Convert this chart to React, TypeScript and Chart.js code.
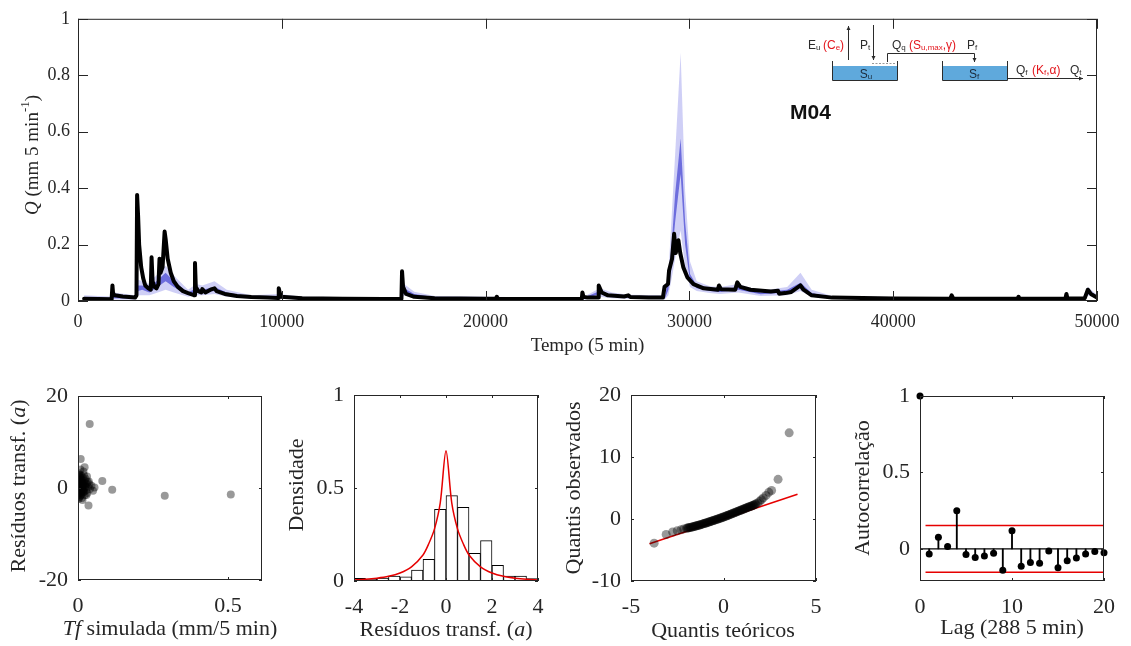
import React, { useEffect, useRef } from 'react';
import { Chart, registerables } from 'chart.js';
Chart.register(...registerables);

const W = 1131;
const H = 646;
const SERIF = "'Liberation Serif', 'Times New Roman', serif";
const SANS = "'Liberation Sans', Arial, Helvetica, sans-serif";
const INK = '#262626';
const AXIS = 40;

// ---------------- top panel data ----------------
const topXTicks = [0, 10000, 20000, 30000, 40000, 50000];
const topYTicks = [0, 0.2, 0.4, 0.6, 0.8, 1];

// observed discharge [time step, Q]
const obsPoints: number[][] = [
  [300, 0.008], [1000, 0.007], [1650, 0.006], [1690, 0.055], [1720, 0.028], [1800, 0.02], [2200, 0.016],
  [2800, 0.012], [2870, 0.02], [2900, 0.376], [2950, 0.3], [3000, 0.2], [3100, 0.12], [3200, 0.08],
  [3300, 0.055], [3450, 0.045], [3570, 0.04], [3610, 0.155], [3660, 0.07], [3750, 0.05], [3850, 0.045],
  [3950, 0.06], [4000, 0.15], [4050, 0.1], [4150, 0.12], [4250, 0.246], [4300, 0.22], [4400, 0.15],
  [4550, 0.1], [4700, 0.07], [4900, 0.05], [5150, 0.035], [5400, 0.028], [5650, 0.022], [5710, 0.02],
  [5740, 0.135], [5780, 0.05], [5900, 0.035], [6050, 0.03], [6100, 0.042], [6250, 0.03], [6500, 0.04],
  [6700, 0.045], [6800, 0.035], [7200, 0.025], [7800, 0.018], [8500, 0.014], [9300, 0.012], [9820, 0.011],
  [9850, 0.045], [9950, 0.015], [11000, 0.01], [13000, 0.008], [15000, 0.007], [15870, 0.007], [15900, 0.105],
  [15950, 0.05], [16100, 0.025], [16500, 0.015], [17500, 0.01], [20000, 0.008], [20500, 0.008], [20550, 0.015],
  [20600, 0.008], [24000, 0.007], [24720, 0.007], [24750, 0.03], [24800, 0.015], [25000, 0.012], [25520, 0.012],
  [25550, 0.055], [25700, 0.03], [26000, 0.02], [26800, 0.016], [27000, 0.02], [27100, 0.014], [28000, 0.012],
  [28700, 0.012], [28780, 0.05], [28950, 0.06], [29000, 0.107], [29150, 0.15], [29250, 0.238], [29330, 0.17],
  [29460, 0.215], [29550, 0.17], [29700, 0.12], [29900, 0.084], [30200, 0.06], [30700, 0.045], [31400, 0.04],
  [31450, 0.055], [31550, 0.042], [32250, 0.04], [32350, 0.066], [32500, 0.05], [33000, 0.04], [34000, 0.034],
  [34350, 0.036], [34400, 0.026], [34700, 0.028], [35000, 0.032], [35450, 0.055], [35600, 0.04], [36000, 0.02],
  [37000, 0.012], [40000, 0.009], [42800, 0.008], [42870, 0.02], [42950, 0.008], [46100, 0.008], [46150, 0.015],
  [46200, 0.008], [48450, 0.008], [48500, 0.025], [48550, 0.009], [49400, 0.01], [49550, 0.04], [49700, 0.025],
  [50000, 0.012],
];

// simulated uncertainty bands [time step, outerLo, innerLo, innerHi, outerHi]
const simRows: number[][] = [
  [300, 0.002, 0.005, 0.01, 0.02], [1000, 0.002, 0.005, 0.009, 0.018], [1650, 0.002, 0.004, 0.008, 0.016],
  [1750, 0.005, 0.01, 0.02, 0.03], [2800, 0.004, 0.008, 0.013, 0.02], [2950, 0.02, 0.035, 0.055, 0.075],
  [3150, 0.02, 0.04, 0.055, 0.07], [3500, 0.02, 0.03, 0.045, 0.06], [3700, 0.025, 0.04, 0.06, 0.08],
  [4300, 0.04, 0.07, 0.1, 0.125], [4700, 0.03, 0.05, 0.07, 0.09], [5400, 0.015, 0.022, 0.03, 0.04],
  [5800, 0.02, 0.03, 0.045, 0.06], [6100, 0.02, 0.03, 0.04, 0.055], [6700, 0.025, 0.035, 0.05, 0.07],
  [7300, 0.015, 0.02, 0.03, 0.04], [8500, 0.008, 0.011, 0.015, 0.02], [9900, 0.008, 0.012, 0.018, 0.025],
  [11000, 0.005, 0.008, 0.011, 0.015], [15850, 0.003, 0.005, 0.008, 0.012], [16000, 0.02, 0.03, 0.045, 0.06],
  [16500, 0.012, 0.018, 0.025, 0.033], [17500, 0.006, 0.009, 0.013, 0.018], [24700, 0.003, 0.005, 0.008, 0.011],
  [25600, 0.015, 0.025, 0.035, 0.045], [26200, 0.01, 0.015, 0.022, 0.03], [27000, 0.008, 0.012, 0.017, 0.022],
  [28800, 0.006, 0.01, 0.014, 0.02], [28970, 0.02, 0.04, 0.08, 0.1], [29130, 0.08, 0.15, 0.2, 0.3],
  [29300, 0.15, 0.28, 0.38, 0.52], [29570, 0.25, 0.45, 0.576, 0.88], [29790, 0.12, 0.2, 0.28, 0.39],
  [30030, 0.05, 0.07, 0.096, 0.14], [30360, 0.035, 0.045, 0.055, 0.07], [31000, 0.028, 0.035, 0.042, 0.052],
  [31500, 0.025, 0.032, 0.04, 0.05], [32400, 0.03, 0.04, 0.05, 0.06], [33500, 0.018, 0.024, 0.03, 0.036],
  [34800, 0.02, 0.03, 0.04, 0.05], [35450, 0.035, 0.05, 0.065, 0.1], [36000, 0.015, 0.02, 0.028, 0.04],
  [37000, 0.008, 0.01, 0.013, 0.018], [42800, 0.003, 0.005, 0.008, 0.011], [49300, 0.004, 0.006, 0.009, 0.013],
  [49550, 0.02, 0.03, 0.04, 0.05], [50000, 0.008, 0.012, 0.016, 0.022],
];

// ---------------- panel 1: residuals vs simulated ----------------
const resXTicks = [0, 0.5];
const resYTicks = [-20, 0, 20];
const resPoints: number[][] = [
  [0.039, 13.9], [0.009, 6.3], [0.022, 4.5], [0.081, 1.5], [0.114, -0.4], [0.289, -1.7], [0.509, -1.4], [0.035, -3.8],
  [0.002, -1.5], [0.002, 0.5], [0.002, 2.5], [0.003, -0.8], [0.003, 1.2], [0.003, 3.2], [0.004, -2.0], [0.004, 0.0],
  [0.004, 1.8], [0.005, -1.2], [0.005, 0.8], [0.005, 2.8], [0.006, -0.4], [0.006, 1.5], [0.007, -1.8], [0.007, 0.3],
  [0.007, 2.2], [0.008, -1.0], [0.008, 1.0], [0.009, -0.2], [0.009, 1.9], [0.01, -1.4], [0.01, 0.6], [0.011, 2.6],
  [0.012, -0.6], [0.012, 1.3], [0.013, -2.2], [0.014, 0.1], [0.015, 1.7], [0.016, -1.0], [0.017, 0.7], [0.018, 3.6],
  [0.019, -0.3], [0.02, 1.1], [0.022, -1.6], [0.023, 0.4], [0.025, 2.0], [0.027, -0.5], [0.029, 0.9], [0.031, -1.1],
  [0.033, 0.2], [0.036, 1.4], [0.04, -0.2], [0.045, 0.5], [0.05, -0.6], [0.055, 0.1], [0.015, -2.6], [0.02, 2.8],
  [0.008, 4.0], [0.03, 2.5], [0.004, 0.9], [0.006, -1.1], [0.011, 0.2], [0.013, 0.9], [0.018, -0.8], [0.024, 1.0],
  [0.001, -0.5], [0.001, 1.5], [0.002, -2.4], [0.003, 0.2], [0.003, 2.0], [0.004, -1.2], [0.005, 0.3], [0.005, 1.4],
  [0.006, 0.6], [0.006, 2.4], [0.007, -0.6], [0.007, 1.2], [0.008, 0.2], [0.008, 2.9], [0.009, -1.6], [0.009, 0.9],
  [0.01, -0.4], [0.01, 1.6], [0.011, -1.0], [0.012, 0.4], [0.013, -0.2], [0.014, 1.2], [0.015, 0.4], [0.016, 2.2],
  [0.017, -0.4], [0.019, 0.6], [0.021, -0.8], [0.022, 1.7], [0.026, 0.2], [0.028, -1.5], [0.032, 1.3], [0.038, 0.8],
];

// ---------------- panel 2: histogram ----------------
const histXTicks = [-4, -2, 0, 2, 4];
const histYTicks = [0, 0.5, 1];
const binCenters = [-3.75, -3.25, -2.75, -2.25, -1.75, -1.25, -0.75, -0.25, 0.25, 0.75, 1.25, 1.75, 2.25, 2.75, 3.25, 3.75];
const binDensity = [0.014, 0.009, 0.016, 0.027, 0.023, 0.059, 0.116, 0.385, 0.459, 0.396, 0.149, 0.217, 0.084, 0.027, 0.027, 0.013];
const pdfX = [-4, -3.5, -3, -2.5, -2, -1.5, -1, -0.75, -0.5, -0.25, 0, 0.25, 0.5, 0.75, 1, 1.5, 2, 2.5, 3, 3.5, 4];
const pdfY = [0.006, 0.009, 0.015, 0.025, 0.043, 0.076, 0.14, 0.2, 0.28, 0.42, 0.7, 0.42, 0.28, 0.2, 0.14, 0.076, 0.043, 0.025, 0.015, 0.009, 0.006];

// ---------------- panel 3: QQ plot ----------------
const qqXTicks = [-5, 0, 5];
const qqYTicks = [-10, 0, 10, 20];
const qqPoints: number[][] = [
  [-3.75, -3.9], [-3.1, -2.5], [-2.75, -2.1], [-2.5, -1.9], [-2.3, -1.75], [-2.15, -1.6],
  [-2.0, -1.5], [-1.95, -1.47], [-1.9, -1.43], [-1.85, -1.4], [-1.8, -1.36], [-1.75, -1.33], [-1.7, -1.3],
  [-1.65, -1.26], [-1.6, -1.22], [-1.55, -1.18], [-1.5, -1.13], [-1.45, -1.09], [-1.4, -1.04], [-1.35, -1.0],
  [-1.3, -0.96], [-1.25, -0.92], [-1.2, -0.87], [-1.15, -0.83], [-1.1, -0.78], [-1.05, -0.74], [-1.0, -0.69],
  [-0.95, -0.64], [-0.9, -0.6], [-0.85, -0.55], [-0.8, -0.5], [-0.75, -0.45], [-0.7, -0.4], [-0.65, -0.35],
  [-0.6, -0.3], [-0.55, -0.25], [-0.5, -0.2], [-0.45, -0.15], [-0.4, -0.1], [-0.35, -0.05], [-0.3, 0.0],
  [-0.25, 0.06], [-0.2, 0.11], [-0.15, 0.16], [-0.1, 0.21], [-0.05, 0.27], [0, 0.32], [0.05, 0.38], [0.1, 0.43],
  [0.15, 0.49], [0.2, 0.55], [0.25, 0.6], [0.3, 0.66], [0.35, 0.72], [0.4, 0.78], [0.45, 0.84], [0.5, 0.9],
  [0.55, 0.96], [0.6, 1.02], [0.65, 1.08], [0.7, 1.14], [0.75, 1.2], [0.8, 1.26], [0.85, 1.32], [0.9, 1.38],
  [0.95, 1.44], [1.0, 1.5], [1.05, 1.56], [1.1, 1.62], [1.15, 1.68], [1.2, 1.74], [1.25, 1.8], [1.3, 1.86],
  [1.35, 1.92], [1.4, 1.97], [1.45, 2.02], [1.5, 2.08], [1.55, 2.14], [1.6, 2.2], [1.65, 2.27], [1.7, 2.35],
  [1.75, 2.45], [1.85, 2.6], [1.95, 2.85], [2.05, 3.1], [2.15, 3.4], [2.3, 3.8], [2.45, 4.3], [2.6, 4.6],
  [2.95, 6.4], [3.55, 13.9],
];
const qqLineX = [-4, 4];
const qqLineY = [-4, 4];

// ---------------- panel 4: autocorrelation ----------------
const acfXTicks = [0, 10, 20];
const acfYTicks = [0, 0.5, 1];
const acfLags = [0, 1, 2, 3, 4, 5, 6, 7, 8, 9, 10, 11, 12, 13, 14, 15, 16, 17, 18, 19, 20];
const acfValues = [1, -0.033, 0.076, 0.015, 0.25, -0.037, -0.057, -0.046, -0.028, -0.14, 0.118, -0.113, -0.089, -0.094, -0.013, -0.124, -0.078, -0.059, -0.033, -0.017, -0.026];
const acfBound = 0.153;
const acfBoundX = [0.6, 20];

// ---------------- helpers ----------------
type Seg = { t: string; i?: boolean; b?: boolean; sub?: boolean; sup?: boolean; c?: string };
type Area = { L: number; T: number; R: number; B: number };

function fontOf(s: Seg, size: number, fam: string) {
  const sz = s.sub || s.sup ? Math.round(size * 0.68) : size;
  return `${s.i ? 'italic ' : ''}${s.b ? 'bold ' : ''}${sz}px ${fam}`;
}
function richWidth(ctx: CanvasRenderingContext2D, segs: Seg[], size: number, fam: string) {
  let w = 0;
  segs.forEach((s) => {
    ctx.font = fontOf(s, size, fam);
    w += ctx.measureText(s.t).width;
  });
  return w;
}
function drawRich(
  ctx: CanvasRenderingContext2D, segs: Seg[], x: number, y: number, size: number, fam: string,
  align: 'left' | 'center', color: string, baseline: CanvasTextBaseline = 'middle', subK = 0.25
) {
  ctx.save();
  ctx.textBaseline = baseline;
  ctx.textAlign = 'left';
  let cx = align === 'center' ? x - richWidth(ctx, segs, size, fam) / 2 : x;
  segs.forEach((s) => {
    ctx.font = fontOf(s, size, fam);
    ctx.fillStyle = s.c || color;
    const dy = s.sub ? size * subK : s.sup ? -size * 0.38 : 0;
    ctx.fillText(s.t, cx, y + dy);
    cx += ctx.measureText(s.t).width;
  });
  ctx.restore();
}

type TitleSpec = { segs: Seg[]; cx: number; cy: number; rot?: boolean };

function decoPlugin(tickLen: number, size: number, titles: TitleSpec[], extra?: (ctx: CanvasRenderingContext2D) => void) {
  return {
    id: 'deco',
    afterDraw(chart: any) {
      const ctx: CanvasRenderingContext2D = chart.ctx;
      const a = chart.chartArea;
      const xs = chart.scales.x;
      const ys = chart.scales.y;
      ctx.save();
      ctx.strokeStyle = INK;
      ctx.lineWidth = 1;
      ctx.strokeRect(a.left + 0.5, a.top + 0.5, a.right - a.left - 1, a.bottom - a.top - 1);
      ctx.beginPath();
      xs.ticks.forEach((t: any) => {
        const p = Math.round(xs.getPixelForValue(t.value)) + 0.5;
        ctx.moveTo(p, a.bottom);
        ctx.lineTo(p, a.bottom - tickLen);
        ctx.moveTo(p, a.top);
        ctx.lineTo(p, a.top + tickLen);
      });
      ys.ticks.forEach((t: any) => {
        const p = Math.round(ys.getPixelForValue(t.value)) + 0.5;
        ctx.moveTo(a.left, p);
        ctx.lineTo(a.left + tickLen, p);
        ctx.moveTo(a.right, p);
        ctx.lineTo(a.right - tickLen, p);
      });
      ctx.stroke();
      ctx.restore();
      titles.forEach((tt) => {
        if (tt.rot) {
          ctx.save();
          ctx.translate(tt.cx, tt.cy);
          ctx.rotate(-Math.PI / 2);
          drawRich(ctx, tt.segs, 0, 0, size, SERIF, 'center', INK);
          ctx.restore();
        } else {
          drawRich(ctx, tt.segs, tt.cx, tt.cy, size, SERIF, 'center', INK);
        }
      });
      if (extra) extra(ctx);
    },
  };
}

function axis(kind: 'x' | 'y', min: number, max: number, ticks: number[], size: number, pad: number) {
  return {
    type: 'linear',
    min,
    max,
    offset: false,
    grid: { display: false, drawTicks: false },
    border: { display: false },
    afterBuildTicks: (s: any) => {
      s.ticks = ticks.map((v) => ({ value: v }));
    },
    afterFit: (s: any) => {
      if (kind === 'x') s.height = AXIS;
      else s.width = AXIS;
    },
    ticks: {
      autoSkip: false,
      maxRotation: 0,
      minRotation: 0,
      padding: pad,
      color: INK,
      font: { family: SERIF, size },
      callback: (v: any) => String(v),
    },
  };
}

function baseOptions(area: Area, x: any, y: any) {
  return {
    responsive: false,
    animation: false,
    devicePixelRatio: 1,
    events: [],
    layout: { padding: { left: area.L - AXIS, top: area.T, right: W - area.R, bottom: H - area.B - AXIS } },
    plugins: { legend: { display: false }, tooltip: { enabled: false }, title: { display: false } },
    scales: { x, y },
  };
}

function arrow(ctx: CanvasRenderingContext2D, x1: number, y1: number, x2: number, y2: number) {
  ctx.beginPath();
  ctx.moveTo(x1, y1);
  ctx.lineTo(x2, y2);
  ctx.stroke();
  const ang = Math.atan2(y2 - y1, x2 - x1);
  const L = 4;
  const w = 2;
  ctx.beginPath();
  ctx.moveTo(x2, y2);
  ctx.lineTo(x2 - L * Math.cos(ang) + w * Math.sin(ang), y2 - L * Math.sin(ang) - w * Math.cos(ang));
  ctx.lineTo(x2 - L * Math.cos(ang) - w * Math.sin(ang), y2 - L * Math.sin(ang) + w * Math.cos(ang));
  ctx.closePath();
  ctx.fill();
}

function drawDiagram(ctx: CanvasRenderingContext2D) {
  const red = '#e3161d';
  const dark = '#2b2b2b';
  const blue = '#5fa9dc';
  ctx.save();
  ctx.lineWidth = 1;
  const bucket = (x1: number, x2: number) => {
    ctx.fillStyle = blue;
    ctx.fillRect(x1, 66, x2 - x1, 14);
    ctx.strokeStyle = dark;
    ctx.beginPath();
    ctx.moveTo(x1 + 0.5, 61);
    ctx.lineTo(x1 + 0.5, 80.5);
    ctx.lineTo(x2 + 0.5, 80.5);
    ctx.lineTo(x2 + 0.5, 61);
    ctx.stroke();
  };
  bucket(832, 897);
  bucket(942, 1007);
  ctx.strokeStyle = '#9a9a9a';
  ctx.setLineDash([2, 1.5]);
  ctx.beginPath();
  ctx.moveTo(872, 63.5);
  ctx.lineTo(895, 63.5);
  ctx.stroke();
  ctx.setLineDash([]);
  ctx.strokeStyle = dark;
  ctx.fillStyle = dark;
  arrow(ctx, 848.5, 60, 848.5, 26);
  arrow(ctx, 873.5, 25, 873.5, 60);
  ctx.beginPath();
  ctx.moveTo(887.5, 62);
  ctx.lineTo(887.5, 53.5);
  ctx.lineTo(974.5, 53.5);
  ctx.stroke();
  arrow(ctx, 974.5, 53.5, 974.5, 62);
  ctx.beginPath();
  ctx.moveTo(1007.5, 70);
  ctx.lineTo(1007.5, 78.5);
  ctx.lineTo(1012, 78.5);
  ctx.stroke();
  arrow(ctx, 1012, 78.5, 1083, 78.5);
  ctx.restore();

  const f = 12;
  const k = 0.1;
  const A: CanvasTextBaseline = 'alphabetic';
  drawRich(ctx, [{ t: 'E' }, { t: 'u', sub: true }], 808, 49, f, SANS, 'left', dark, A, k);
  drawRich(ctx, [{ t: '(C', c: red }, { t: 'e', sub: true, c: red }, { t: ')', c: red }], 823, 49, f, SANS, 'left', dark, A, k);
  drawRich(ctx, [{ t: 'P' }, { t: 't', sub: true }], 860, 49, f, SANS, 'left', dark, A, k);
  drawRich(ctx, [{ t: 'Q' }, { t: 'q', sub: true }], 892, 49, f, SANS, 'left', dark, A, k);
  drawRich(ctx, [{ t: '(S', c: red }, { t: 'u,max', sub: true, c: red }, { t: ',\u03B3)', c: red }], 909, 49, f, SANS, 'left', dark, A, k);
  drawRich(ctx, [{ t: 'P' }, { t: 'f', sub: true }], 967, 49, f, SANS, 'left', dark, A, k);
  drawRich(ctx, [{ t: 'S' }, { t: 'u', sub: true }], 866, 78, f, SANS, 'center', '#1b2a3a', A, k);
  drawRich(ctx, [{ t: 'S' }, { t: 'f', sub: true }], 974, 78, f, SANS, 'center', '#1b2a3a', A, k);
  drawRich(ctx, [{ t: 'Q' }, { t: 'f', sub: true }], 1016, 74, f, SANS, 'left', dark, A, k);
  drawRich(ctx, [{ t: '(K', c: red }, { t: 'f', sub: true, c: red }, { t: ',\u03B1)', c: red }], 1032, 74, f, SANS, 'left', dark, A, k);
  drawRich(ctx, [{ t: 'Q' }, { t: 't', sub: true }], 1070, 74, f, SANS, 'left', dark, A, k);
  drawRich(ctx, [{ t: 'M04', b: true }], 790, 119, 21, SANS, 'left', '#111', A);
}

// ---------------- chart builders ----------------
function buildTop(cv: HTMLCanvasElement) {
  const area = { L: 78, T: 10, R: 1097, B: 301 };
  const sim = (k: number) => simRows.map((r) => ({ x: r[0], y: r[k] }));
  const band = { pointRadius: 0, borderWidth: 0, borderColor: 'rgba(0,0,0,0)', tension: 0 };
  return new Chart(cv, {
    type: 'line',
    data: {
      datasets: [
        { ...band, data: sim(4), fill: '+1', backgroundColor: 'rgba(175,175,240,0.6)', order: 3 },
        { ...band, data: sim(1), fill: false, order: 3 },
        { ...band, data: sim(3), fill: '+1', backgroundColor: 'rgba(85,85,215,0.8)', order: 2 },
        { ...band, data: sim(2), fill: false, order: 2 },
        {
          data: obsPoints.map((p) => ({ x: p[0], y: p[1] })),
          borderColor: '#000',
          borderWidth: 4,
          pointRadius: 0,
          tension: 0,
          fill: false,
          borderJoinStyle: 'round',
          borderCapStyle: 'round',
          order: 1,
        },
      ],
    },
    options: baseOptions(area, axis('x', 0, 50000, topXTicks, 18, 10), axis('y', 0, 1, topYTicks, 18, 8)) as any,
    plugins: [
      decoPlugin(10, 19, [
        { segs: [{ t: 'Tempo (5 min)' }], cx: 587.5, cy: 346 },
        { segs: [{ t: 'Q', i: true }, { t: ' (mm 5 min' }, { t: '-1', sup: true }, { t: ')' }], cx: 33, cy: 155, rot: true },
      ], drawDiagram),
    ],
  } as any);
}

function buildResid(cv: HTMLCanvasElement) {
  const area = { L: 78, T: 396, R: 262, B: 580 };
  return new Chart(cv, {
    type: 'scatter',
    data: {
      datasets: [
        {
          data: resPoints.map((p) => ({ x: p[0], y: p[1] })),
          backgroundColor: 'rgba(0,0,0,0.4)',
          borderWidth: 0,
          pointRadius: 4,
        },
      ],
    },
    options: baseOptions(area, axis('x', 0, 0.613, resXTicks, 22, 13.5), axis('y', -20, 20, resYTicks, 22, 10)) as any,
    plugins: [
      decoPlugin(3, 22, [
        { segs: [{ t: 'Tf', i: true }, { t: ' simulada (mm/5 min)' }], cx: 170, cy: 629 },
        { segs: [{ t: 'Resíduos transf. (' }, { t: 'a', i: true }, { t: ')' }], cx: 19, cy: 486, rot: true },
      ]),
    ],
  } as any);
}

function buildHist(cv: HTMLCanvasElement) {
  const area = { L: 354, T: 395, R: 538, B: 581 };
  return new Chart(cv, {
    type: 'bar',
    data: {
      datasets: [
        {
          type: 'line',
          data: pdfX.map((x, i) => ({ x, y: pdfY[i] })),
          borderColor: '#e60000',
          borderWidth: 1.5,
          pointRadius: 0,
          tension: 0.3,
          fill: false,
          order: 0,
        },
        {
          type: 'bar',
          data: binCenters.map((x, i) => ({ x, y: binDensity[i] })),
          backgroundColor: '#ffffff',
          borderColor: '#000000',
          borderWidth: 1,
          borderSkipped: false,
          barPercentage: 1,
          categoryPercentage: 1,
          order: 1,
        },
      ],
    },
    options: baseOptions(area, axis('x', -4, 4, histXTicks, 22, 13.5), axis('y', 0, 1, histYTicks, 22, 10)) as any,
    plugins: [
      decoPlugin(3, 22, [
        { segs: [{ t: 'Resíduos transf. (' }, { t: 'a', i: true }, { t: ')' }], cx: 446, cy: 630 },
        { segs: [{ t: 'Densidade' }], cx: 297, cy: 485, rot: true },
      ]),
    ],
  } as any);
}

function buildQQ(cv: HTMLCanvasElement) {
  const area = { L: 631, T: 395, R: 816, B: 581 };
  return new Chart(cv, {
    type: 'scatter',
    data: {
      datasets: [
        {
          data: qqPoints.map((p) => ({ x: p[0], y: p[1] })),
          backgroundColor: 'rgba(0,0,0,0.4)',
          borderWidth: 0,
          pointRadius: 4.5,
          order: 1,
        },
        {
          type: 'line',
          data: qqLineX.map((x, i) => ({ x, y: qqLineY[i] })),
          borderColor: '#e60000',
          borderWidth: 1.5,
          pointRadius: 0,
          showLine: true,
          fill: false,
          order: 2,
        },
      ],
    },
    options: baseOptions(area, axis('x', -5, 5, qqXTicks, 22, 13.5), axis('y', -10, 20, qqYTicks, 22, 10)) as any,
    plugins: [
      decoPlugin(3, 22, [
        { segs: [{ t: 'Quantis teóricos' }], cx: 723, cy: 631 },
        { segs: [{ t: 'Quantis observados' }], cx: 574, cy: 488, rot: true },
      ]),
    ],
  } as any);
}

function buildACF(cv: HTMLCanvasElement) {
  const area = { L: 920, T: 396, R: 1104, B: 581 };
  return new Chart(cv, {
    type: 'bar',
    data: {
      datasets: [
        {
          type: 'line',
          data: acfLags.map((x, i) => ({ x, y: acfValues[i] })),
          showLine: false,
          pointRadius: 3.5,
          pointBackgroundColor: '#000',
          pointBorderWidth: 0,
          borderColor: '#000',
          clip: false,
          order: 0,
        },
        {
          type: 'bar',
          data: acfLags.map((x, i) => ({ x, y: acfValues[i] })),
          backgroundColor: '#000',
          barThickness: 1.2,
          order: 1,
        },
        {
          type: 'line',
          data: [{ x: 0, y: 0 }, { x: 20, y: 0 }],
          borderColor: '#000',
          borderWidth: 1.2,
          pointRadius: 0,
          order: 2,
        },
        {
          type: 'line',
          data: acfBoundX.map((x) => ({ x, y: acfBound })),
          borderColor: '#e60000',
          borderWidth: 1.5,
          pointRadius: 0,
          order: 3,
        },
        {
          type: 'line',
          data: acfBoundX.map((x) => ({ x, y: -acfBound })),
          borderColor: '#e60000',
          borderWidth: 1.5,
          pointRadius: 0,
          order: 3,
        },
      ],
    },
    options: baseOptions(area, axis('x', 0, 20, acfXTicks, 22, 13.5), axis('y', -0.21, 1, acfYTicks, 22, 10)) as any,
    plugins: [
      decoPlugin(3, 22, [
        { segs: [{ t: 'Lag (288 5 min)' }], cx: 1012, cy: 628 },
        { segs: [{ t: 'Autocorrelação' }], cx: 863, cy: 488, rot: true },
      ]),
    ],
  } as any);
}

export default function App() {
  const c0 = useRef<HTMLCanvasElement>(null);
  const c1 = useRef<HTMLCanvasElement>(null);
  const c2 = useRef<HTMLCanvasElement>(null);
  const c3 = useRef<HTMLCanvasElement>(null);
  const c4 = useRef<HTMLCanvasElement>(null);

  useEffect(() => {
    Chart.defaults.font.family = SERIF;
    const charts = [
      buildTop(c0.current!),
      buildResid(c1.current!),
      buildHist(c2.current!),
      buildQQ(c3.current!),
      buildACF(c4.current!),
    ];
    return () => charts.forEach((c) => c.destroy());
  }, []);

  const cs: React.CSSProperties = { position: 'absolute', left: 0, top: 0 };
  return (
    <div style={{ position: 'absolute', left: 0, top: 0, width: W, height: H, background: '#fff', overflow: 'hidden' }}>
      <canvas ref={c0} width={W} height={H} style={cs} />
      <canvas ref={c1} width={W} height={H} style={cs} />
      <canvas ref={c2} width={W} height={H} style={cs} />
      <canvas ref={c3} width={W} height={H} style={cs} />
      <canvas ref={c4} width={W} height={H} style={cs} />
    </div>
  );
}
